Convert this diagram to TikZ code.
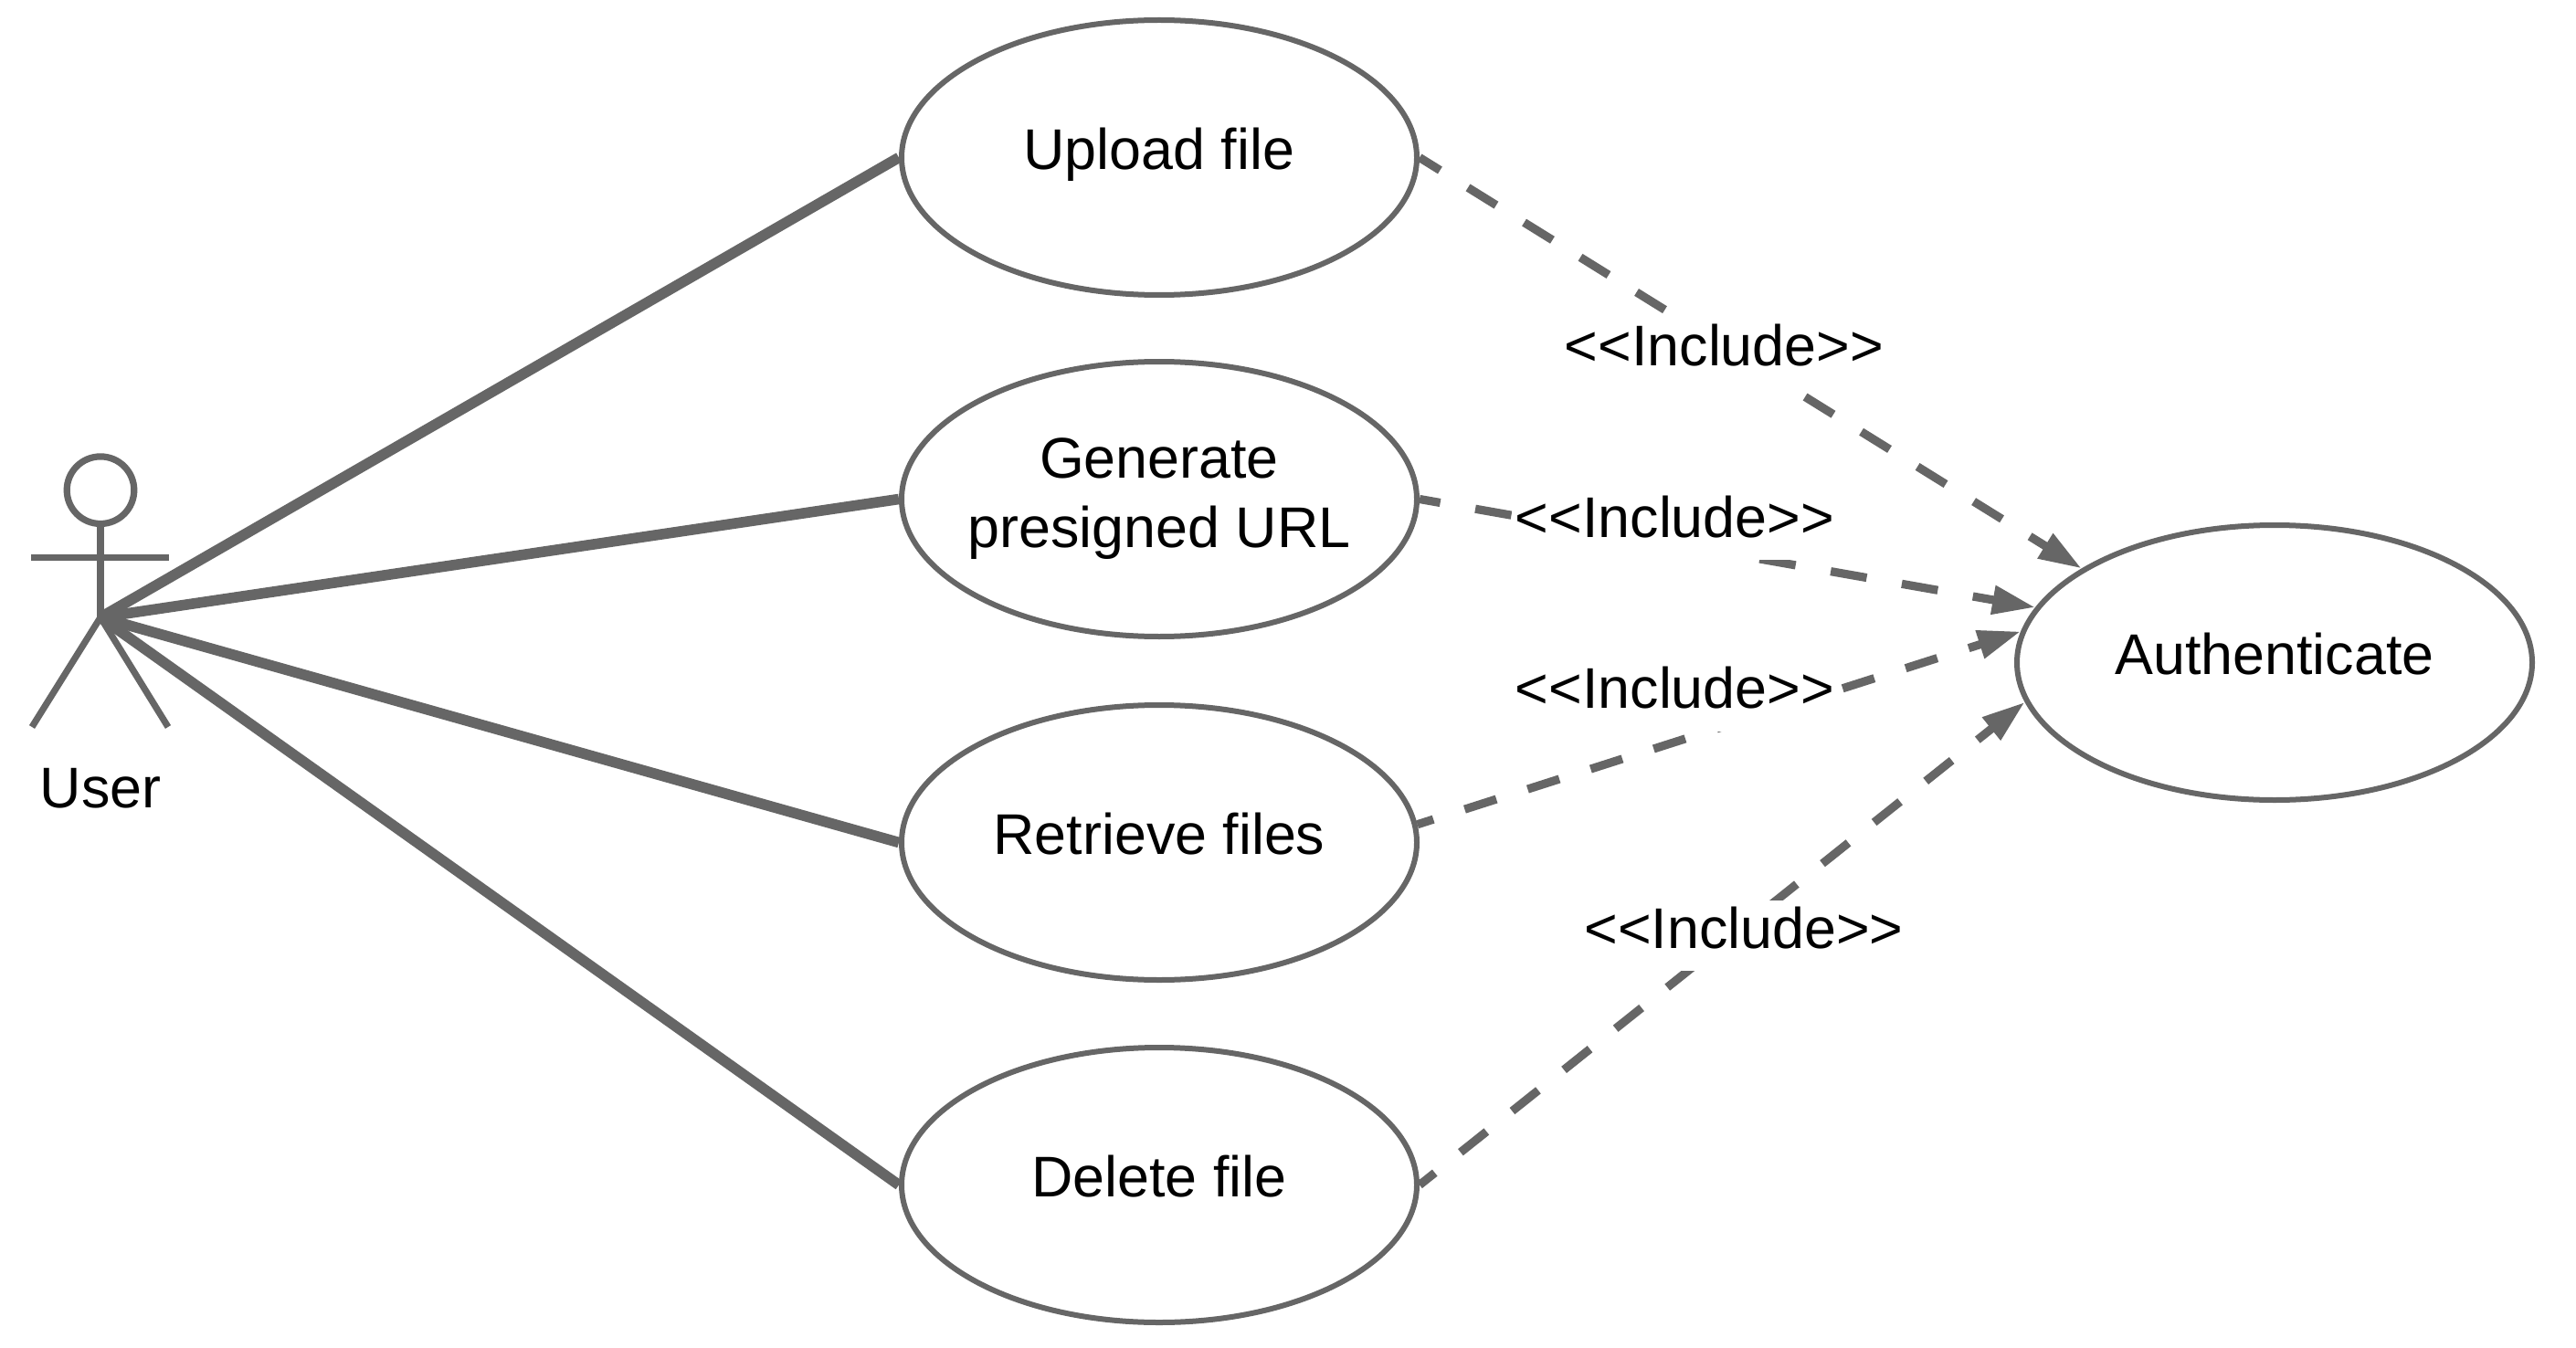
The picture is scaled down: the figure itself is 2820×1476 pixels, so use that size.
\documentclass[tikz,border=0pt]{standalone}
\usepackage{fontspec}
\setmainfont{Liberation Sans}
\usetikzlibrary{arrows.meta,shapes.geometric}
\definecolor{cGrey}{HTML}{666666}

\begin{document}
\begin{tikzpicture}[x=0.5pt,y=-0.5pt,
    usecase/.style={draw=cGrey,line width=3pt,fill=white,ellipse,minimum width=282pt,minimum height=150.5pt,inner sep=-40pt,align=center,font=\fontsize{31.4}{38}\selectfont},
    oneline/.style={text height=15.5pt,text depth=2.5pt},
    assoc/.style={draw=cGrey,line width=5.8pt},
    include/.style={draw=cGrey,line width=4.6pt,-{Triangle[length=23.5pt,width=15pt]}},
    stereo/.style={fill=white,anchor=base,inner xsep=2pt,inner ysep=0pt,text height=26.1pt,text depth=12.5pt,font=\fontsize{31.4}{38}\selectfont}]
\useasboundingbox (0,0) rectangle (2820,1476);
\def\cLine{cGrey}
\def\xU{1269}
% actor
\coordinate (hip) at (110,676);
\draw[\cLine,line width=3.6pt] (110,536.7) circle[radius=18.4pt];
\draw[\cLine,line width=3.6pt] (110,573.4) -- (hip);
\draw[\cLine,line width=3.6pt] (34.3,610.7) -- (185,610.7);
\draw[\cLine,line width=3.6pt] (35,796) -- (hip) -- (184,796);
\node[anchor=base,inner sep=0pt,font=\fontsize{31.4}{38}\selectfont] (user) at (110,884.5) {User};
% use cases
\node[usecase,oneline] (upload) at (\xU,172.5) {Upload file};
\node[usecase] (generate) at (\xU,546.5) {Generate\\presigned URL};
\node[usecase,oneline] (retrieve) at (\xU,922.5) {Retrieve files};
\node[usecase,oneline] (delete) at (\xU,1297.5) {Delete file};
\node[usecase,oneline] (auth) at (2490,725.5) {Authenticate};
% associations
\draw[assoc] (hip) -- (upload.west);
\draw[assoc] (hip) -- (generate.west);
\draw[assoc] (hip) -- (retrieve.west);
\draw[assoc] (hip) -- (delete.west);
% includes
\draw[include,dash pattern=on 18.2pt off 18pt,dash phase=5pt] (upload.east) -- (auth.154);
\draw[include,dash pattern=on 20pt off 19.5pt,dash phase=8.5pt] (generate.east) -- (auth.167);
\draw[include,dash pattern=on 18.2pt off 18pt,dash phase=9pt] (retrieve.4) -- (auth.173);
\draw[include,dash pattern=on 18.2pt off 18pt,dash phase=7.5pt] (delete.east) -- (auth.189);
\node[stereo] (incUpload) at (1887.5,400.5) {<{}<Include>{}>};
\node[stereo] (incGenerate) at (1833.5,588.2) {<{}<Include>{}>};
\node[stereo] (incRetrieve) at (1833.5,775.5) {<{}<Include>{}>};
\node[stereo] (incDelete) at (1909,1038.2) {<{}<Include>{}>};
\end{tikzpicture}
\end{document}
